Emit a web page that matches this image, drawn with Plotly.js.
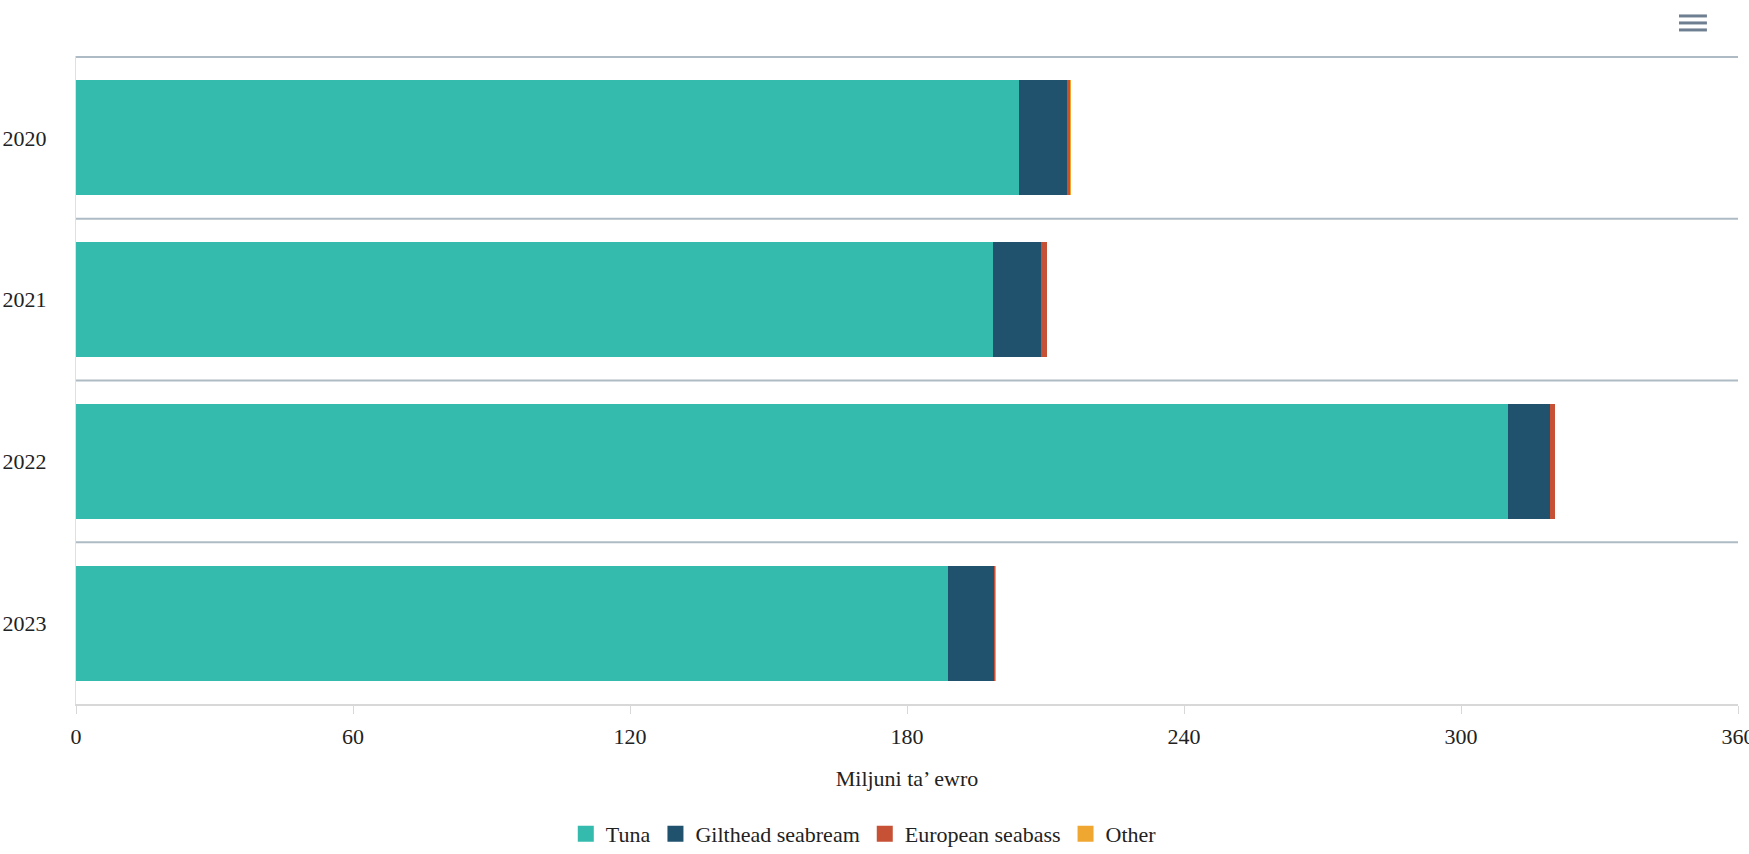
<!DOCTYPE html>
<html>
<head>
<meta charset="utf-8">
<script src="https://cdn.plot.ly/plotly-3.0.1.min.js"></script>
<style>
html,body{margin:0;padding:0;background:#fff;}
#chart{width:1749px;height:854px;}
</style>
</head>
<body>
<div id="chart"></div>
<script>
const years = ['2020', '2021', '2022', '2023'];
const tuna = [204.3, 198.7, 310.2, 188.9];
const gilthead = [10.4, 10.4, 9.1, 10.0];
const seabass = [0.6, 1.3, 1.1, 0.2];
const other = [0.3, 0, 0, 0.2];
const seriesNames = ['Tuna', 'Gilthead seabream', 'European seabass', 'Other'];
const seriesColors = ['#35bbad', '#20526e', '#c65135', '#f0a732'];
const xTicks = [0, 60, 120, 180, 240, 300, 360];
const xTitle = 'Miljuni ta\u2019 ewro';

const font = 'Liberation Serif, Times New Roman, serif';
const values = [tuna, gilthead, seabass, other];
const traces = values.map((v, i) => ({
  type: 'bar',
  orientation: 'h',
  y: years,
  x: v,
  name: seriesNames[i],
  legendgroup: seriesNames[i],
  showlegend: false,
  marker: {color: seriesColors[i], line: {width: 0}},
  hoverinfo: 'skip'
}));
// legend entries (square swatches)
seriesNames.forEach((n, i) => traces.push({
  type: 'scatter', mode: 'markers', x: [null], y: [null], name: n,
  legendgroup: n, showlegend: true,
  marker: {symbol: 'square', size: 16, color: seriesColors[i]}, hoverinfo: 'skip'
}));

const shapes = [];
for (let k = 0; k < years.length; k++) {
  shapes.push({type: 'line', xref: 'paper', yref: 'y', x0: 0, x1: 1,
    y0: k - 0.5, y1: k - 0.5, line: {color: '#aebbc4', width: 2}, layer: 'below'});
}
// hamburger menu icon
[1.0618, 1.051, 1.0402].forEach(yy => shapes.push({type: 'line', xref: 'paper', yref: 'paper',
  x0: 0.9645, x1: 0.9813, y0: yy, y1: yy, line: {color: '#6e7f91', width: 3}}));

const layout = {
  width: 1749, height: 854,
  margin: {l: 76, r: 11, t: 56, b: 150, autoexpand: false},
  paper_bgcolor: '#fff', plot_bgcolor: '#fff',
  barmode: 'stack', bargap: 0.29,
  font: {family: font, size: 22, color: '#222'},
  showlegend: true,
  legend: {orientation: 'h', x: 0.474, xanchor: 'center', y: -0.2006, yanchor: 'middle',
    font: {family: font, size: 22, color: '#222'}, traceorder: 'normal', itemwidth: 30},
  xaxis: {range: [0, 360], tickvals: xTicks, ticktext: xTicks.map(String),
    showgrid: false, zeroline: false, showline: true, linecolor: '#d8d8d8', linewidth: 2,
    ticks: 'outside', ticklen: 8, tickcolor: '#d8d8d8', automargin: false,
    ticklabeloverflow: 'allow', ticklabelstandoff: 4,
    tickfont: {family: font, size: 22, color: '#222'},
    title: {text: xTitle, font: {family: font, size: 22, color: '#222'}, standoff: 22}},
  yaxis: {type: 'category', autorange: 'reversed', showgrid: false, zeroline: false,
    showline: true, linecolor: '#e0e0e0', linewidth: 1, ticks: '', automargin: false,
    tickfont: {family: font, size: 22, color: '#222'}, ticklabelstandoff: 24},
  shapes: shapes
};

Plotly.newPlot('chart', traces, layout, {displayModeBar: false, staticPlot: true});
</script>
</body>
</html>
